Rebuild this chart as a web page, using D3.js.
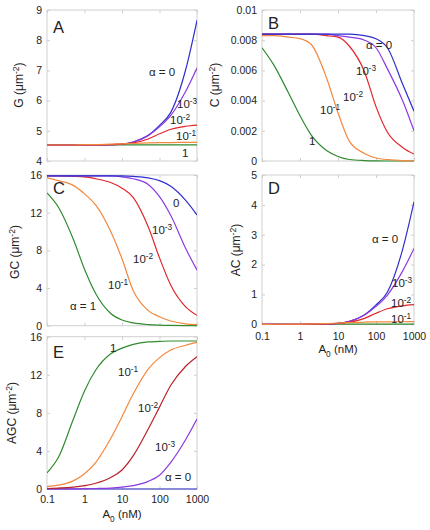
<!DOCTYPE html>
<html><head><meta charset="utf-8">
<script src="https://cdn.jsdelivr.net/npm/d3@7"></script>
<style>
body{margin:0;background:#fff}
text{font-family:Arial,"Liberation Sans",sans-serif;fill:#222}
</style>
</head><body>
<svg id="chart" width="430" height="530"></svg>
<script>
// ---------- data ----------
const A0 = [0.1,0.2,0.5,1,2,5,10,20,50,100,200,500,1000];
const xTickValues = [0.1,1,10,100,1000];
const xTickLabels = ["0.1","1","10","100","1000"];
const alphaNames = ["0","10^-3","10^-2","10^-1","1"];

// Panel A: G (um^-2)
const G_a0 = [4.53,4.53,4.53,4.53,4.53,4.54,4.56,4.63,4.85,5.18,5.61,7.03,8.66];
const G_a3 = [4.53,4.53,4.53,4.53,4.53,4.54,4.56,4.63,4.84,5.13,5.51,6.31,7.08];
const G_a2 = [4.53,4.53,4.53,4.53,4.53,4.54,4.56,4.60,4.73,4.90,5.05,5.15,5.19];
const G_a1 = [4.53,4.53,4.53,4.54,4.54,4.56,4.57,4.58,4.60,4.61,4.61,4.62,4.62];
const G_1  = [4.53,4.53,4.53,4.53,4.53,4.53,4.535,4.535,4.535,4.535,4.535,4.535,4.535];
const G_ticks = [4,5,6,7,8,9];

// Panel B: C (um^-2)
const C_a0 = [0.0084,0.0084,0.0084,0.0084,0.0084,0.0084,0.0084,0.0084,0.0083,0.0081,0.0075,0.0051,0.0033];
const C_a3 = [0.0084,0.0084,0.0084,0.0084,0.0084,0.0084,0.0083,0.0082,0.0080,0.0075,0.0061,0.0040,0.0020];
const C_a2 = [0.0084,0.0084,0.0084,0.0084,0.0084,0.0083,0.0082,0.0076,0.0059,0.0036,0.0019,0.0009,0.00046];
const C_a1 = [0.0083,0.0083,0.0082,0.0081,0.0077,0.0055,0.0032,0.0013,0.0005,0.0002,0.0001,0.00003,0.00001];
const C_1  = [0.0075,0.0064,0.0045,0.0030,0.0017,0.0007,0.0003,0.0001,0.00003,0.00001,0,0,0];
const C_ticks = [0,0.002,0.004,0.006,0.008,0.01];
const C_tickLabels = ["0","0.002","0.004","0.006","0.008","0.01"];

// Panel C: GC (um^-2)
const GC_a0 = [15.9,15.9,15.9,15.9,15.9,15.9,15.9,15.85,15.7,15.4,14.8,13.3,11.75];
const GC_a3 = [15.9,15.9,15.9,15.9,15.9,15.9,15.8,15.6,15.0,13.7,11.7,8.2,5.9];
const GC_a2 = [15.9,15.9,15.85,15.8,15.6,15.2,14.6,13.6,10.5,7.2,4.3,2.0,1.1];
const GC_a1 = [15.7,15.4,14.9,14.0,12.8,10.0,7.1,3.7,1.6,0.95,0.5,0.2,0.12];
const GC_1  = [14.1,12.6,9.2,6.0,3.4,1.3,0.6,0.3,0.12,0.06,0.03,0.01,0];
const GC_ticks = [0,4,8,12,16];

// Panel D: AC (um^-2)
const AC_a0 = [0,0,0.001,0.002,0.004,0.012,0.03,0.1,0.32,0.65,1.08,2.5,4.1];
const AC_a3 = [0,0,0.001,0.002,0.004,0.012,0.03,0.1,0.31,0.6,0.98,1.78,2.54];
const AC_a2 = [0,0,0.001,0.002,0.004,0.011,0.027,0.075,0.2,0.37,0.52,0.62,0.66];
const AC_a1 = [0,0.001,0.003,0.006,0.012,0.025,0.04,0.055,0.07,0.078,0.083,0.086,0.088];
const AC_1  = [0,0,0.001,0.002,0.003,0.004,0.005,0.005,0.005,0.005,0.005,0.005,0.005];
const AC_ticks = [0,1,2,3,4,5];

// Panel E: AGC (um^-2)
const AGC_a0 = [0,0,0,0,0,0,0,0,0,0,0,0,0];
const AGC_a3 = [0,0.01,0.02,0.03,0.05,0.1,0.2,0.35,0.8,1.45,2.8,5.2,7.35];
const AGC_a2 = [0.05,0.1,0.2,0.35,0.6,1.2,2.0,3.5,6.3,8.6,10.9,12.9,13.9];
const AGC_a1 = [0.25,0.4,0.85,1.6,2.8,5.3,7.6,10.0,12.6,13.8,14.6,15.1,15.4];
const AGC_1  = [1.7,3.3,7.3,10.3,12.5,14.2,14.8,15.2,15.45,15.5,15.55,15.55,15.55];
const AGC_ticks = [0,4,8,12,16];

// ---------- style ----------
const COL = {a0:"#2f2fcc", a3:"#8d3ae0", a2:"#e2262b", a1:"#f3883c", one:"#2e8b2e"};
const FRAME = "#cfcfcf";
const svg = d3.select("#chart");
svg.append("rect").attr("width",430).attr("height",530).attr("fill","#fff");

function richText(sel, str, size){
  const m = str.match(/^(.*)\^(.*)$/);
  if(m){
    sel.append("tspan").text(m[1]);
    sel.append("tspan").attr("dy",-4.5).attr("font-size",size*0.72).text(m[2]);
  } else sel.text(str);
}
function unitLabel(sel, name, size){
  sel.append("tspan").text(name + " (\u03bcm");
  sel.append("tspan").attr("dy",-4.5).attr("font-size",size*0.72).text("-2");
  sel.append("tspan").attr("dy",4.5).text(")");
}
function a0Label(sel, size){
  sel.append("tspan").text("A");
  sel.append("tspan").attr("dy",3.5).attr("font-size",size*0.72).text("0");
  sel.append("tspan").attr("dy",-3.5).text(" (nM)");
}

let clipId = 0;
function panel(p){
  const x = d3.scaleLog().domain([0.1,1000]).range([p.x0,p.x1]);
  const y = d3.scaleLinear().domain(p.ydom).range([p.y1,p.y0]);
  const g = svg.append("g");
  const id = "clip"+(clipId++);
  g.append("clipPath").attr("id",id).append("rect")
    .attr("x",p.x0).attr("y",p.y0-1).attr("width",p.x1-p.x0).attr("height",p.y1-p.y0+2);

  g.append("rect").attr("x",p.x0).attr("y",p.y0).attr("width",p.x1-p.x0).attr("height",p.y1-p.y0)
    .attr("fill","none").attr("stroke",FRAME).attr("stroke-width",1);

  const styleAx = (a)=>{ a.select(".domain").remove(); a.selectAll("line").attr("stroke",FRAME); };
  g.append("g").attr("transform",`translate(0,${p.y0})`)
    .call(d3.axisTop(x).tickValues(xTickValues).tickSize(-3).tickFormat("")).call(styleAx);
  g.append("g").attr("transform",`translate(${p.x1},0)`)
    .call(d3.axisRight(y).tickValues(p.yticks).tickSize(-3).tickFormat("")).call(styleAx);
  const bx = g.append("g").attr("transform",`translate(0,${p.y1})`)
    .call(d3.axisBottom(x).tickValues(xTickValues).tickSize(-3).tickPadding(p.xpad||6)
      .tickFormat(p.xlabels ? ((d,i)=>xTickLabels[i]) : ""));
  styleAx(bx);
  bx.selectAll("text").attr("font-size",10.5).attr("font-family","Arial, 'Liberation Sans', sans-serif").attr("fill","#222");
  const ly = g.append("g").attr("transform",`translate(${p.x0},0)`)
    .call(d3.axisLeft(y).tickValues(p.yticks).tickSize(-3).tickPadding(5)
      .tickFormat((d,i)=> p.ytickLabels ? p.ytickLabels[i] : String(d)));
  styleAx(ly);
  ly.selectAll("text").attr("font-size",10.5).attr("font-family","Arial, 'Liberation Sans', sans-serif").attr("fill","#222");

  const line = d3.line().x((d,i)=>x(A0[i])).y(d=>y(d)).curve(d3.curveMonotoneX);
  const cg = g.append("g").attr("clip-path",`url(#${id})`);
  p.series.forEach(s=>{
    cg.append("path").attr("d",line(s.v)).attr("fill","none")
      .attr("stroke",s.c).attr("stroke-width",1.2);
  });

  g.append("text").attr("x",p.x0+6).attr("y",p.letterY).attr("font-size",16.5).text(p.letter);

  p.labels.forEach(l=>{
    const t = g.append("text").attr("x",l.x).attr("y",l.y).attr("font-size",11.5);
    richText(t, l.t, 11.5);
  });

  const yl = g.append("text").attr("transform",`translate(${p.ylx},${p.yly}) rotate(-90)`)
    .attr("text-anchor","middle").attr("dy","0.35em").attr("font-size",12);
  unitLabel(yl, p.yname, 12);

  if(p.xlabels){
    const xl = g.append("text").attr("x",(p.x0+p.x1)/2).attr("y",p.xlabY)
      .attr("text-anchor","middle").attr("font-size",11.5);
    a0Label(xl, 11.5);
  }
}

panel({x0:47,x1:197,y0:10,y1:161,ydom:[4,9],yticks:G_ticks,letter:"A",letterY:33,
  series:[{v:G_1,c:COL.one},{v:G_a0,c:COL.a0},{v:G_a3,c:COL.a3},{v:G_a2,c:COL.a2},{v:G_a1,c:COL.a1}],
  labels:[{t:"\u03b1 = 0",x:149,y:76},{t:alphaNames[1],x:177,y:108},{t:alphaNames[2],x:170,y:124},
          {t:alphaNames[3],x:176,y:140},{t:alphaNames[4],x:182,y:157}],
  yname:"G",ylx:19,yly:85});

panel({x0:262,x1:414,y0:10,y1:161,ydom:[0,0.01],yticks:C_ticks,ytickLabels:C_tickLabels,letter:"B",letterY:29,
  series:[{v:C_1,c:COL.one},{v:C_a1,c:COL.a1},{v:C_a2,c:COL.a2},{v:C_a3,c:COL.a3},{v:C_a0,c:COL.a0}],
  labels:[{t:"\u03b1 = 0",x:366,y:49},{t:alphaNames[1],x:356,y:75},{t:alphaNames[2],x:343,y:101},
          {t:alphaNames[3],x:320,y:114},{t:alphaNames[4],x:309,y:145}],
  yname:"C",ylx:215,yly:85});

panel({x0:47,x1:197,y0:175,y1:325.7,ydom:[0,16],yticks:GC_ticks,letter:"C",letterY:194,
  series:[{v:GC_1,c:COL.one},{v:GC_a1,c:COL.a1},{v:GC_a2,c:COL.a2},{v:GC_a3,c:COL.a3},{v:GC_a0,c:COL.a0}],
  labels:[{t:"0",x:173,y:207},{t:alphaNames[1],x:152,y:234},{t:alphaNames[2],x:133,y:263},
          {t:alphaNames[3],x:108,y:289},{t:"\u03b1 = 1",x:70,y:310}],
  yname:"GC",ylx:15,yly:252});

panel({x0:262,x1:414,y0:175,y1:324.3,ydom:[0,5],yticks:AC_ticks,letter:"D",letterY:194,
  xlabels:true,xpad:8.5,xlabY:353,
  series:[{v:AC_1,c:COL.one},{v:AC_a0,c:COL.a0},{v:AC_a3,c:COL.a3},{v:AC_a2,c:COL.a2},{v:AC_a1,c:COL.a1}],
  labels:[{t:"\u03b1 = 0",x:372,y:243},{t:alphaNames[1],x:392,y:287},{t:alphaNames[2],x:391,y:307},
          {t:alphaNames[3],x:391,y:323}],
  yname:"AC",ylx:236,yly:250});

panel({x0:47,x1:197,y0:336.7,y1:489,ydom:[0,16],yticks:AGC_ticks,letter:"E",letterY:358,
  xlabels:true,xpad:6.5,xlabY:518,
  series:[{v:AGC_a0,c:COL.a0},{v:AGC_a3,c:COL.a3},{v:AGC_a2,c:"#b8222a"},{v:AGC_a1,c:COL.a1},{v:AGC_1,c:COL.one}],
  labels:[{t:"1",x:110,y:352},{t:alphaNames[3],x:118,y:376},{t:alphaNames[2],x:138,y:412},
          {t:alphaNames[1],x:155,y:451},{t:"\u03b1 = 0",x:165,y:481}],
  yname:"AGC",ylx:12,yly:413});
</script>
</body></html>
